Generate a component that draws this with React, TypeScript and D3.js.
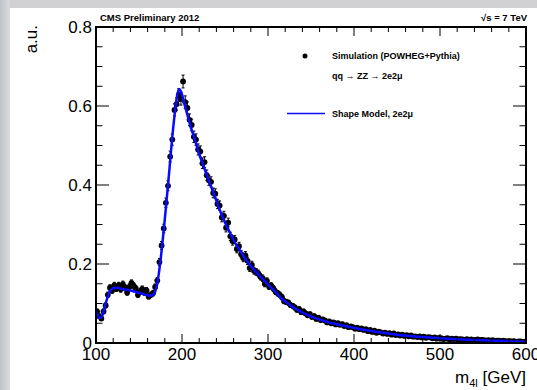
import React from "react";
import * as d3 from "d3";

const W = 537;
const H = 390;

// Data (simulation points), 2.5 GeV bins from 100 to 600
const binCenters = d3.range(101.25, 600, 2.5);
const dataValues = [
  0.080, 0.068, 0.062, 0.080, 0.095, 0.122, 0.140, 0.133, 0.146, 0.138,
  0.146, 0.136, 0.149, 0.140, 0.128, 0.142, 0.152, 0.145, 0.138, 0.122,
  0.130, 0.137, 0.128, 0.133, 0.118, 0.122, 0.126, 0.142, 0.158, 0.205,
  0.247, 0.290, 0.355, 0.398, 0.472, 0.515, 0.590, 0.605, 0.628, 0.618,
  0.662, 0.610, 0.595, 0.565, 0.552, 0.522, 0.515, 0.490, 0.485, 0.455,
  0.458, 0.425, 0.412, 0.408, 0.380, 0.378, 0.352, 0.348, 0.318, 0.322,
  0.292, 0.305, 0.270, 0.258, 0.262, 0.238, 0.245, 0.225, 0.215, 0.222,
  0.208, 0.190, 0.198, 0.183, 0.180, 0.176, 0.168, 0.164, 0.150, 0.157,
  0.143, 0.145, 0.138, 0.130, 0.126, 0.122, 0.116, 0.106, 0.104, 0.102,
  0.096, 0.094, 0.090, 0.084, 0.086, 0.078, 0.080, 0.075, 0.070, 0.073,
  0.066, 0.068, 0.061, 0.064, 0.058, 0.060, 0.057, 0.052, 0.055, 0.050,
  0.052, 0.047, 0.050, 0.046, 0.048, 0.043, 0.045, 0.040, 0.042, 0.040,
  0.036, 0.039, 0.035, 0.037, 0.033, 0.035, 0.030, 0.033, 0.028, 0.031,
  0.026, 0.029, 0.027, 0.024, 0.026, 0.023, 0.025, 0.021, 0.024, 0.020,
  0.022, 0.019, 0.021, 0.018, 0.020, 0.017, 0.019, 0.016, 0.017, 0.015,
  0.017, 0.014, 0.016, 0.013, 0.015, 0.014, 0.012, 0.014, 0.011, 0.013,
  0.012, 0.010, 0.011, 0.012, 0.009, 0.011, 0.010, 0.011, 0.009, 0.010,
  0.009, 0.008, 0.010, 0.008, 0.009, 0.007, 0.008, 0.009, 0.007, 0.008,
  0.007, 0.006, 0.007, 0.006, 0.007, 0.005, 0.006, 0.006, 0.005, 0.006,
  0.005, 0.004, 0.005, 0.004, 0.005, 0.003, 0.004, 0.004, 0.003, 0.003,
];

// Shape model curve
const modelMass = [
  100, 102, 104, 106, 108, 110, 113, 116, 119, 122, 126, 130, 135, 140, 145,
  150, 155, 160, 164, 167, 170, 173, 176, 179, 182, 185, 188, 191, 194, 196.5,
  199, 202, 206, 210, 215, 220, 226, 232, 238, 244, 250, 256, 262, 268, 274,
  280, 286, 292, 300, 308, 316, 325, 335, 345, 355, 365, 375, 390, 410, 430,
  450, 475, 500, 525, 550, 575, 600,
];
const modelValue = [
  0.082, 0.070, 0.063, 0.064, 0.073, 0.090, 0.113, 0.130, 0.138, 0.140, 0.139,
  0.137, 0.135, 0.133, 0.130, 0.127, 0.124, 0.121, 0.120, 0.123, 0.138, 0.175,
  0.228, 0.290, 0.360, 0.430, 0.505, 0.570, 0.622, 0.643, 0.636, 0.612, 0.580,
  0.548, 0.515, 0.478, 0.442, 0.406, 0.372, 0.336, 0.305, 0.278, 0.252, 0.232,
  0.212, 0.195, 0.180, 0.166, 0.148, 0.131, 0.112, 0.097, 0.083, 0.072, 0.063,
  0.056, 0.050, 0.043, 0.034, 0.027, 0.021, 0.016, 0.012, 0.009, 0.007, 0.005,
  0.003,
];

const xTicks = [100, 200, 300, 400, 500, 600];
const yTicks = [0, 0.2, 0.4, 0.6, 0.8];
const xMinor = d3.range(100, 601, 20);
const yMinor = d3.range(0, 0.801, 0.05);

const PL = 96, PR = 526, PT = 27, PB = 343;

export default function App() {
  const x = d3.scaleLinear().domain([100, 600]).range([PL, PR]);
  const y = d3.scaleLinear().domain([0, 0.8]).range([PB, PT]);
  const line = d3
    .line<number>()
    .x((_, i) => x(modelMass[i]))
    .y((d) => y(d))
    .curve(d3.curveMonotoneX);
  const font = "'Liberation Sans', Arial, Helvetica, sans-serif";

  return (
    <svg
      width={W}
      height={H}
      style={{ position: "absolute", left: 0, top: 0 }}
      fontFamily={font}
    >
      <defs>
        <linearGradient id="lg" x1="0" x2="1" y1="0" y2="0">
          <stop offset="0" stopColor="#bfc2c8" />
          <stop offset="1" stopColor="#dadbdf" />
        </linearGradient>
        <linearGradient id="tg" x1="0" x2="0" y1="0" y2="1">
          <stop offset="0" stopColor="#d0d0d2" />
          <stop offset="1" stopColor="#e2e2e4" />
        </linearGradient>
        <clipPath id="clip">
          <rect x={PL} y={PT} width={PR - PL} height={PB - PT} />
        </clipPath>
      </defs>
      <rect x={0} y={0} width={W} height={H} fill="url(#tg)" />
      <rect x={0} y={0} width={10} height={H} fill="url(#lg)" />
      <rect x={10} y={8} width={W - 10} height={H - 8} fill="#ffffff" />

      {/* data points */}
      <g clipPath="url(#clip)">
        {dataValues.map((v, i) => {
          const cx = x(binCenters[i]);
          const err = 0.02 * Math.sqrt(v);
          const y1 = y(v + err);
          const y2 = y(Math.max(0, v - err));
          return (
            <g key={i}>
              <line x1={cx} x2={cx} y1={y1} y2={y2} stroke="#000" strokeWidth={1} />
              <line x1={cx - 1.5} x2={cx + 1.5} y1={y1} y2={y1} stroke="#000" strokeWidth={1} />
              <line x1={cx - 1.5} x2={cx + 1.5} y1={y2} y2={y2} stroke="#000" strokeWidth={1} />
              <circle cx={cx} cy={y(v)} r={2.9} fill="#000" />
            </g>
          );
        })}
        <path d={line(modelValue) || ""} fill="none" stroke="#0a0aff" strokeWidth={2.5} />
      </g>

      {/* frame */}
      <rect x={PL} y={PT} width={PR - PL} height={PB - PT} fill="none" stroke="#000" strokeWidth={2} />

      {/* ticks */}
      {xMinor.map((t) => {
        const major = xTicks.includes(t);
        const len = major ? 9 : 5;
        return (
          <g key={"x" + t}>
            <line x1={x(t)} x2={x(t)} y1={PB} y2={PB - len} stroke="#000" strokeWidth={1} />
            <line x1={x(t)} x2={x(t)} y1={PT} y2={PT + len} stroke="#000" strokeWidth={1} />
          </g>
        );
      })}
      {yMinor.map((t, i) => {
        const major = i % 4 === 0;
        const len = major ? 13 : 6.5;
        return (
          <g key={"y" + i}>
            <line x1={PL} x2={PL + len} y1={y(t)} y2={y(t)} stroke="#000" strokeWidth={1} />
            <line x1={PR} x2={PR - len} y1={y(t)} y2={y(t)} stroke="#000" strokeWidth={1} />
          </g>
        );
      })}

      {/* tick labels */}
      {xTicks.map((t) => (
        <text key={"xl" + t} x={x(t)} y={PB + 17} fontSize={17} textAnchor="middle" fill="#000">
          {t}
        </text>
      ))}
      {yTicks.map((t) => (
        <text key={"yl" + t} x={PL - 4} y={y(t) + 6} fontSize={17} textAnchor="end" fill="#000">
          {t === 0 ? "0" : t.toFixed(1)}
        </text>
      ))}

      {/* axis titles */}
      <text x={526} y={383} fontSize={17} textAnchor="end" fill="#000">
        m<tspan fontSize={11} dy={4}>4l</tspan>
        <tspan dy={-4}> [GeV]</tspan>
      </text>
      <text transform="translate(37,25) rotate(-90)" fontSize={17} textAnchor="end" fill="#000">
        a.u.
      </text>

      {/* header */}
      <text x={100} y={20.5} fontSize={9.5} fontWeight="bold" fill="#000">
        CMS Preliminary 2012
      </text>
      <text x={527} y={20.5} fontSize={9.5} fontWeight="bold" textAnchor="end" fill="#000">
        √s = 7 TeV
      </text>

      {/* legend */}
      <circle cx={305} cy={56} r={2.5} fill="#000" />
      <text x={332} y={59} fontSize={9} fontWeight="bold" fill="#000">
        Simulation (POWHEG+Pythia)
      </text>
      <text x={332} y={79} fontSize={9} fontWeight="bold" fill="#000">
        qq → ZZ → 2e2μ
      </text>
      <line x1={287} x2={325} y1={113.5} y2={113.5} stroke="#0a0aff" strokeWidth={1.5} />
      <text x={332} y={117} fontSize={9} fontWeight="bold" fill="#000">
        Shape Model, 2e2μ
      </text>
    </svg>
  );
}
